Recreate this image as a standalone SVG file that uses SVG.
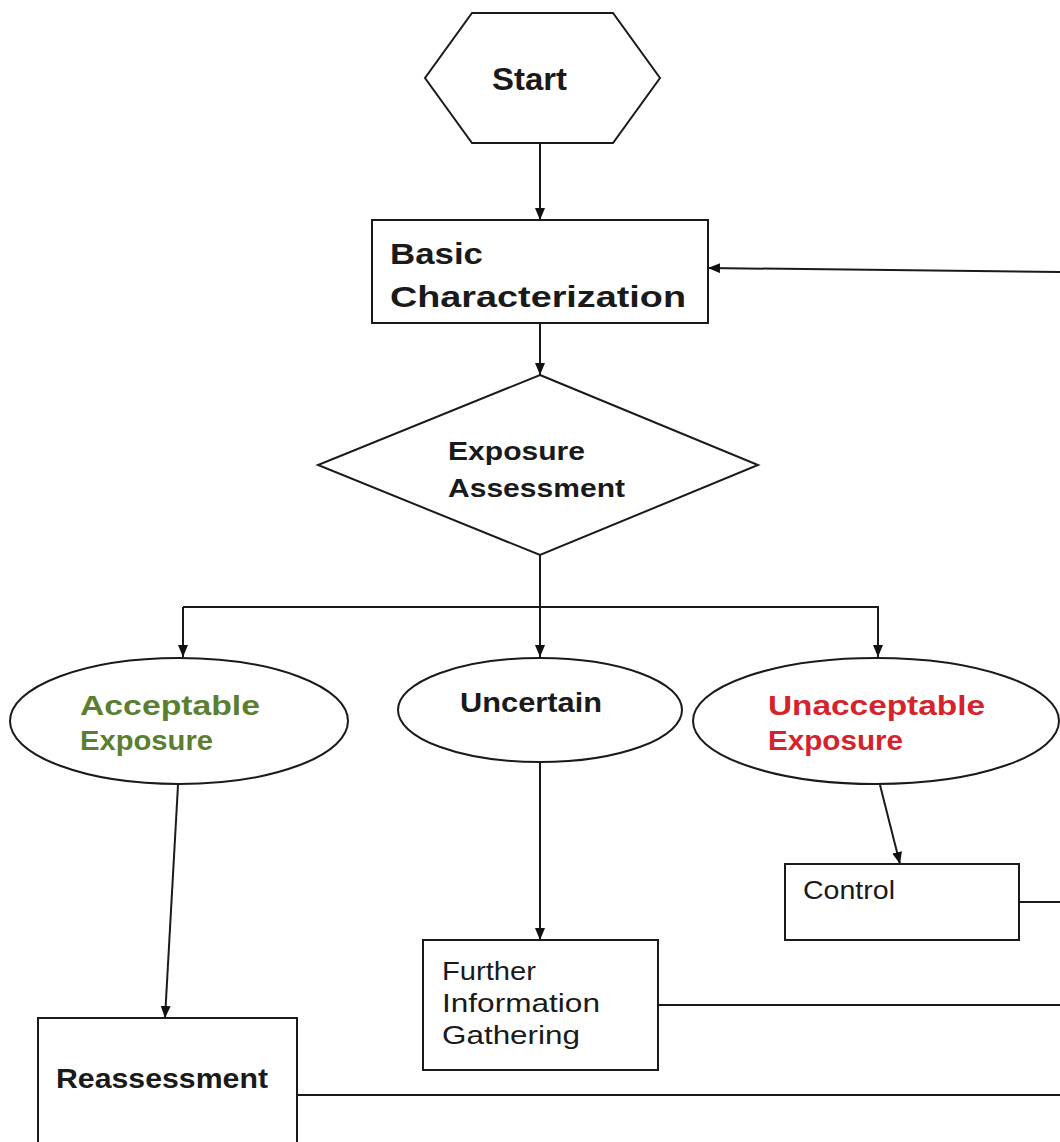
<svg xmlns="http://www.w3.org/2000/svg" width="1060" height="1142" viewBox="0 0 1060 1142">
  <defs>
    <marker id="arrow" viewBox="0 0 12 10" refX="12" refY="5" markerWidth="12" markerHeight="10" markerUnits="userSpaceOnUse" orient="auto">
      <path d="M0,0 L12,5 L0,10 z" fill="#111"/>
    </marker>
  </defs>
  <style>
    .shape { fill: #fff; stroke: #1a1a1a; stroke-width: 2; }
    .line { fill: none; stroke: #1a1a1a; stroke-width: 2; }
    .bold { font-family: "Liberation Sans", Arial, sans-serif; font-weight: bold; fill: #1a1a1a; }
    .plain { font-family: "Liberation Sans", Arial, sans-serif; fill: #1a1a1a; }
    .ok { fill: #5b7f31; }
    .bad { fill: #d6232b; }
  </style>
  <rect width="1060" height="1142" fill="#fff"/>

  <g id="connectors">
    <line class="line" x1="540" y1="143" x2="540" y2="220" marker-end="url(#arrow)"/>
    <line class="line" x1="540" y1="323" x2="540" y2="375" marker-end="url(#arrow)"/>
    <line class="line" x1="540" y1="555" x2="540" y2="657" marker-end="url(#arrow)"/>
    <polyline class="line" points="183,607 878,607 878,657" marker-end="url(#arrow)"/>
    <line class="line" x1="183" y1="607" x2="183" y2="657" marker-end="url(#arrow)"/>
    <line class="line" x1="178" y1="785" x2="165" y2="1018" marker-end="url(#arrow)"/>
    <line class="line" x1="540" y1="762" x2="540" y2="940" marker-end="url(#arrow)"/>
    <line class="line" x1="880" y1="785" x2="900" y2="864" marker-end="url(#arrow)"/>
    <line class="line" x1="1019" y1="902" x2="1060" y2="902"/>
    <line class="line" x1="658" y1="1005" x2="1060" y2="1005"/>
    <line class="line" x1="297" y1="1095" x2="1060" y2="1095"/>
    <line class="line" x1="1060" y1="272" x2="708" y2="268" marker-end="url(#arrow)"/>
  </g>

  <g id="start">
    <polygon class="shape" points="472,13 613,13 660,78 613,143 472,143 425,78"/>
    <text class="bold" x="492" y="90" font-size="31" textLength="75" lengthAdjust="spacingAndGlyphs">Start</text>
  </g>

  <g id="basic-characterization">
    <rect class="shape" x="372" y="220" width="336" height="103"/>
    <text class="bold" font-size="30"><tspan x="390" y="264" textLength="93" lengthAdjust="spacingAndGlyphs">Basic</tspan><tspan x="390" y="307" textLength="296" lengthAdjust="spacingAndGlyphs">Characterization</tspan></text>
  </g>

  <g id="exposure-assessment">
    <polygon class="shape" points="540,375 758,465 540,555 318,465"/>
    <text class="bold" font-size="25"><tspan x="448" y="460" textLength="137" lengthAdjust="spacingAndGlyphs">Exposure</tspan><tspan x="448" y="497" textLength="177" lengthAdjust="spacingAndGlyphs">Assessment</tspan></text>
  </g>

  <g id="acceptable-exposure">
    <ellipse class="shape" cx="179" cy="721" rx="169" ry="63"/>
    <text class="bold ok" font-size="27"><tspan x="80" y="715" textLength="180" lengthAdjust="spacingAndGlyphs">Acceptable</tspan><tspan x="80" y="750" textLength="133" lengthAdjust="spacingAndGlyphs">Exposure</tspan></text>
  </g>

  <g id="uncertain">
    <ellipse class="shape" cx="540" cy="710" rx="142" ry="52"/>
    <text class="bold" x="460" y="712" font-size="27" textLength="142" lengthAdjust="spacingAndGlyphs">Uncertain</text>
  </g>

  <g id="unacceptable-exposure">
    <ellipse class="shape" cx="876" cy="721" rx="183" ry="63"/>
    <text class="bold bad" font-size="27"><tspan x="768" y="715" textLength="217" lengthAdjust="spacingAndGlyphs">Unacceptable</tspan><tspan x="768" y="750" textLength="135" lengthAdjust="spacingAndGlyphs">Exposure</tspan></text>
  </g>

  <g id="control">
    <rect class="shape" x="785" y="864" width="234" height="76"/>
    <text class="plain" x="803" y="899" font-size="25" textLength="92" lengthAdjust="spacingAndGlyphs">Control</text>
  </g>

  <g id="further-information-gathering">
    <rect class="shape" x="423" y="940" width="235" height="130"/>
    <text class="plain" font-size="25"><tspan x="442" y="980" textLength="94" lengthAdjust="spacingAndGlyphs">Further</tspan><tspan x="442" y="1012" textLength="158" lengthAdjust="spacingAndGlyphs">Information</tspan><tspan x="442" y="1044" textLength="138" lengthAdjust="spacingAndGlyphs">Gathering</tspan></text>
  </g>

  <g id="reassessment">
    <rect class="shape" x="38" y="1018" width="259" height="140"/>
    <text class="bold" x="56" y="1088" font-size="28" textLength="212" lengthAdjust="spacingAndGlyphs">Reassessment</text>
  </g>
</svg>
